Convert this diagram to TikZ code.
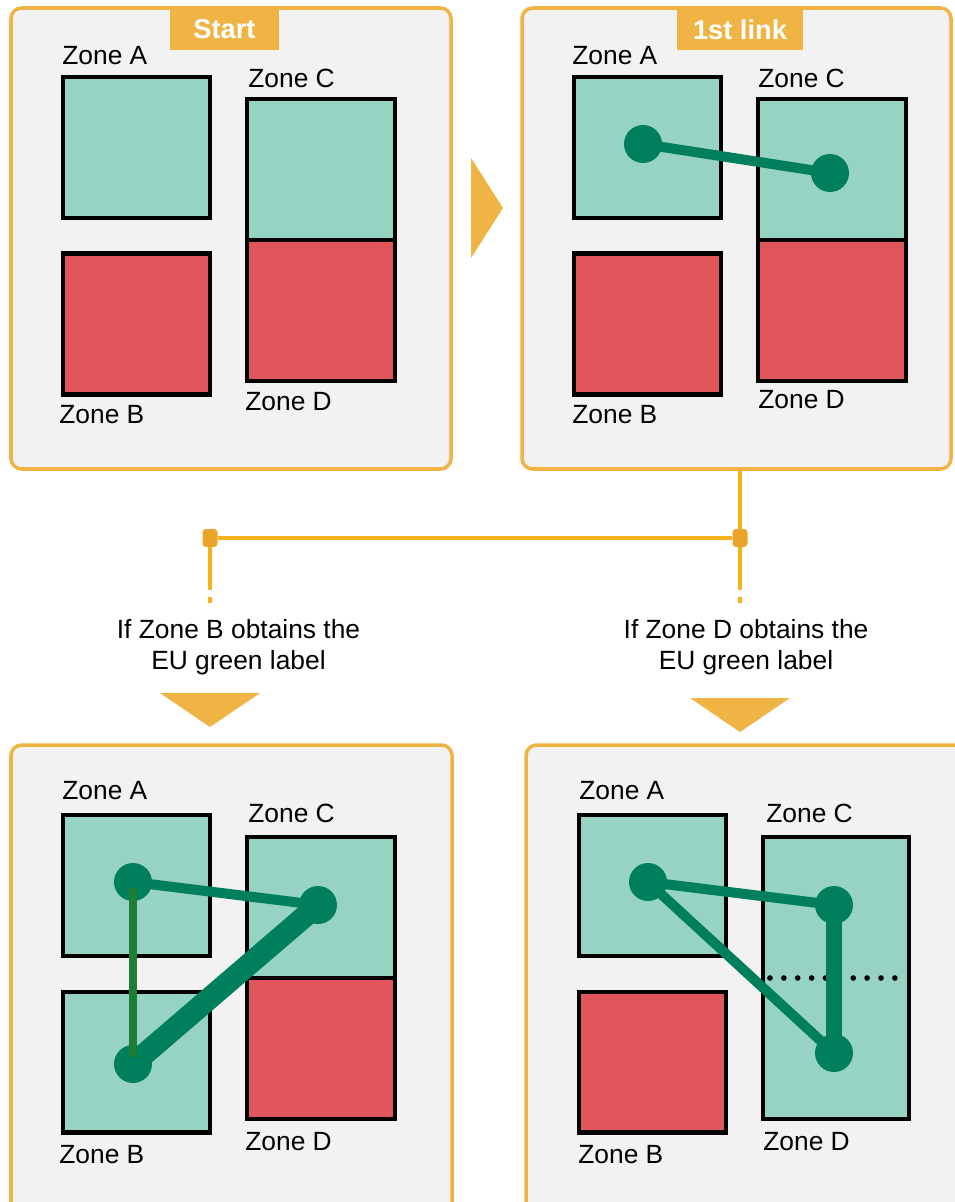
\documentclass[tikz,border=0pt]{standalone}
\usepackage{fontspec}
\setmainfont{Liberation Sans}
\usepackage{xcolor}
\usepackage{tikz}

\definecolor{panelorange}{HTML}{EFB443}
\definecolor{panelgrey}{HTML}{F2F2F2}
\definecolor{zonegreen}{HTML}{96D3C2}
\definecolor{zonered}{HTML}{E0565A}
\definecolor{linkgreen}{HTML}{007F5C}
\definecolor{lightlink}{HTML}{1E7E38}
\definecolor{wirecol}{HTML}{F5B21C}
\definecolor{jointcol}{HTML}{EBA42A}

\newcommand{\zonefont}{\fontsize{15}{18}\selectfont}

\begin{document}
\begin{tikzpicture}[x=0.02cm,y=-0.02cm]
			\tikzstyle{panel}=[draw=panelorange, line width=2pt, fill=panelgrey, rounded corners=6pt]
			\tikzstyle{tag}=[fill=panelorange, text=white, minimum height=0.82cm, inner sep=0pt, font=\fontsize{15.5}{18}\selectfont\bfseries]
			\tikzstyle{zone}=[draw, line width=2.3pt, minimum width=2.95cm, minimum height=2.82cm, inner sep=0pt]
			\tikzstyle{zoneok}=[zone, fill=zonegreen]
			\tikzstyle{zonebad}=[zone, fill=zonered]
			\tikzstyle{zonelabel}=[anchor=west, inner sep=0pt, font=\zonefont]
			\tikzstyle{site}=[circle, fill=linkgreen, minimum size=0.76cm, inner sep=0pt]
			\tikzstyle{joint}=[fill=jointcol, rounded corners=2pt, minimum width=0.3cm, minimum height=0.36cm, inner sep=0pt]
			\tikzstyle{pointer}=[fill=panelorange]
			\tikzset{link/.style = {draw=linkgreen, line width=5.7pt}}
			\tikzset{wire/.style = {draw=wirecol, line width=2.3pt}}

			\useasboundingbox (0,0) rectangle (955,1202);
			\clip (0,0) rectangle (955,1202);

			% panels
			\draw[panel] (11,8) rectangle (451,469);
			\draw[panel] (522,8) rectangle (951,469);
			\draw[panel] (11,745) rectangle (452,1230);
			\draw[panel] (526,745) rectangle (975,1230);
			\node[tag, minimum width=2.18cm](startTag) at (224.5,29.5) {Start};
			\node[tag, minimum width=2.52cm](linkTag)  at (740,29.5) {1st link};

			% start
			\node[zoneok](tlA)  at (136.5,147.5) {};
			\node[zonebad](tlB) at (136.5,324) {};
			\node[zoneok](tlC)  at (321,169.5) {};
			\node[zonebad](tlD) at (321,310.5) {};
			\node[zonelabel](tlLA) at (62,56)  {Zone A};
			\node[zonelabel](tlLC) at (248,78) {Zone C};
			\node[zonelabel](tlLB) at (59,415) {Zone B};
			\node[zonelabel](tlLD) at (245,402) {Zone D};

			% 1st link
			\node[zoneok](trA)  at (647.5,147.5) {};
			\node[zonebad](trB) at (647.5,324) {};
			\node[zoneok](trC)  at (832,169.5) {};
			\node[zonebad](trD) at (832,310.5) {};
			\node[zonelabel](trLA) at (572,56)  {Zone A};
			\node[zonelabel](trLC) at (758,78)  {Zone C};
			\node[zonelabel](trLB) at (572,415) {Zone B};
			\node[zonelabel](trLD) at (758,400) {Zone D};
			\node[site](trSA) at (643,144) {};
			\node[site](trSC) at (830,173) {};
			\draw[link](trSA.center) -- (trSC.center);

			% pointers
			\fill[pointer] (471,158) -- (503,208) -- (471,258) -- cycle;
			\fill[pointer] (160,693) -- (260,693) -- (210,727) -- cycle;
			\fill[pointer] (690,698) -- (790,698) -- (740,732) -- cycle;

			% branches
			\coordinate (trFoot) at (740,469);
			\node[joint](jr) at (740,538) {};
			\node[joint](jl) at (210,538) {};
			\coordinate (lStub) at (210,590);
			\coordinate (lTickA) at (210,597);
			\coordinate (lTickB) at (210,603);
			\coordinate (rStub) at (740,590);
			\coordinate (rTickA) at (740,597);
			\coordinate (rTickB) at (740,603);
			\draw[wire](trFoot) -- (jr);
			\draw[wire](jr) -- (jl);
			\draw[wire](jl) -- (lStub);
			\draw[wire](lTickA) -- (lTickB);
			\draw[wire](jr) -- (rStub);
			\draw[wire](rTickA) -- (rTickB);
			\node[align=center, font=\fontsize{15}{17.6}\selectfont](condB) at (238.5,647) {If Zone B obtains the\\EU green label};
			\node[align=center, font=\fontsize{15}{17.6}\selectfont](condD) at (746,647) {If Zone D obtains the\\EU green label};

			% zone B labelled
			\node[zoneok](blA)  at (136.5,885.5) {};
			\node[zoneok](blB)  at (136.5,1062) {};
			\node[zoneok](blC)  at (321,907.5) {};
			\node[zonebad](blD) at (321,1048.5) {};
			\node[zonelabel](blLA) at (62,791)  {Zone A};
			\node[zonelabel](blLC) at (248,813) {Zone C};
			\node[zonelabel](blLB) at (59,1155) {Zone B};
			\node[zonelabel](blLD) at (245,1142) {Zone D};
			\node[site](blSA) at (133,882) {};
			\node[site](blSC) at (318,905) {};
			\node[site](blSB) at (133,1064) {};
			\draw[link](blSA.center) -- (blSC.center);
			\draw[link, line width=12.5pt](blSB.center) -- (blSC.center);
			\draw[draw=lightlink, line width=4.5pt, shorten <=3.4pt, shorten >=4pt](blSA.center) -- (blSB.center);

			% zone D labelled
			\node[zoneok](brA)  at (652.5,885.5) {};
			\node[zonebad](brB) at (652.5,1062) {};
			\node[zoneok, minimum width=2.92cm, minimum height=5.64cm](brCD) at (836,978) {};
			\node[zonelabel](brLA) at (579,791)  {Zone A};
			\node[zonelabel](brLC) at (766,813)  {Zone C};
			\node[zonelabel](brLB) at (578,1155) {Zone B};
			\node[zonelabel](brLD) at (763,1142) {Zone D};
			\draw[line width=3.2pt, line cap=round, dash pattern=on 0pt off 7.9pt, shorten <=5.1pt, shorten >=5.1pt](brCD.west) -- (brCD.east);
			\node[site](brSA) at (648,882) {};
			\node[site](brSC) at (834,905) {};
			\node[site](brSD) at (834,1053) {};
			\draw[link](brSA.center) -- (brSC.center);
			\draw[link](brSA.center) -- (brSD.center);
			\draw[link, line width=9.6pt](brSC.center) -- (brSD.center);
\end{tikzpicture}
\end{document}
